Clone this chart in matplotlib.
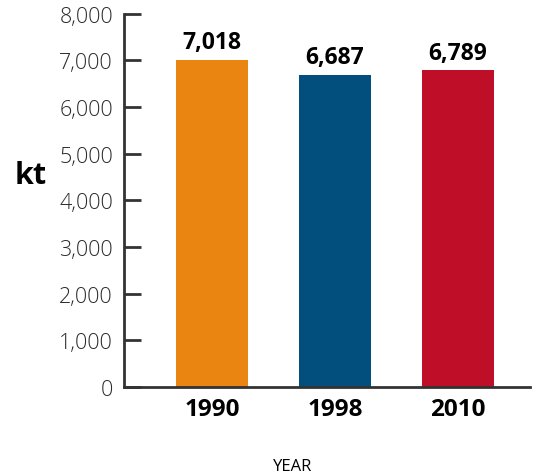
import matplotlib.pyplot as plt
from matplotlib.ticker import FuncFormatter

years = ["1990", "1998", "2010"]
emissions = [7018, 6687, 6789]
colors = ["#EA8511", "#024F7E", "#BE0E28"]

plt.rcParams['font.family'] = ['Open Sans', 'DejaVu Sans']

fig = plt.figure(figsize=(5.37, 4.77), dpi=100)
ax = fig.add_axes([0.231, 0.187, 0.756, 0.782])

x = range(len(years))
bars = ax.bar(x, emissions, width=0.585, color=colors)

for xi, v in zip(x, emissions):
    ax.annotate(f"{v:,}", (xi, v), xytext=(0, 4), textcoords="offset points",
                ha="center", va="bottom", fontsize=16.5, fontweight="bold")

ax.set_xlim(-0.715, 2.585)
ax.set_ylim(0, 8000)
ax.set_yticks(range(0, 8001, 1000))
ax.yaxis.set_major_formatter(FuncFormatter(lambda v, p: f"{int(v):,}"))
ax.set_xticks(list(x))
ax.set_xticklabels(years, fontsize=17.5, fontweight="bold")

ax.tick_params(axis="y", direction="in", length=12, width=2, color="#333333",
               labelsize=15.5, labelcolor="#2b2b2b", pad=8)
ax.tick_params(axis="x", length=0, pad=7)
for lbl in ax.get_yticklabels():
    lbl.set_fontweight("light")

for s in ["top", "right"]:
    ax.spines[s].set_visible(False)
for s in ["left", "bottom"]:
    ax.spines[s].set_color("#333333")
    ax.spines[s].set_linewidth(2)

fig.text(0.057, 0.63, "kt", fontsize=22, fontweight="bold", ha="center", va="center")
fig.text(0.545, 0.02, "YEAR", fontsize=12, ha="center", va="center")

fig.savefig("out.png", dpi=100)
